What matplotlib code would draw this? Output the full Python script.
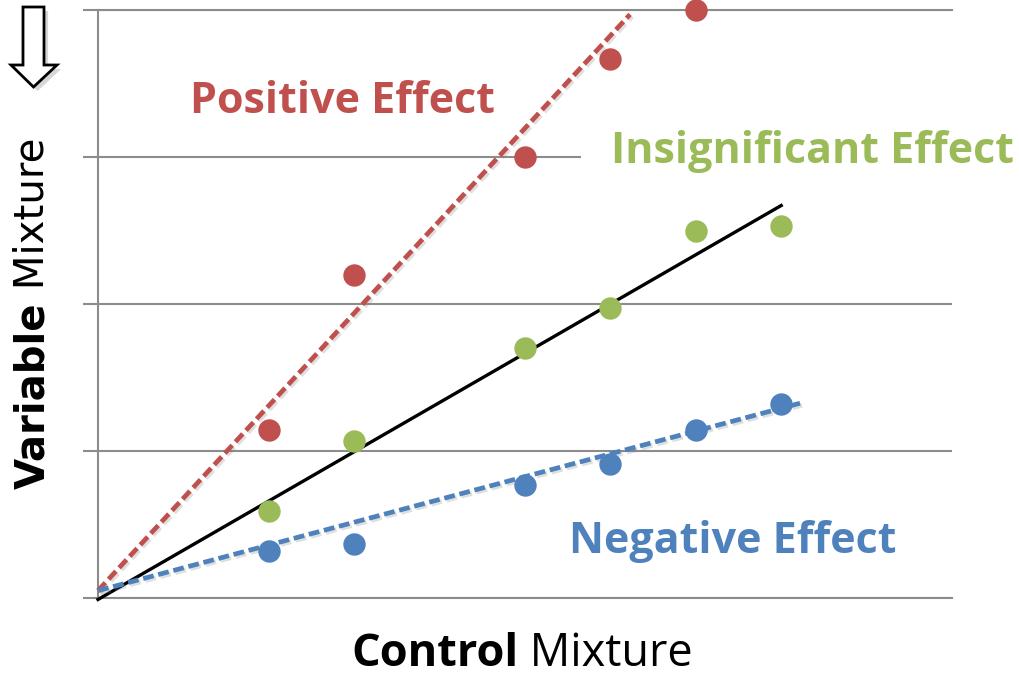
import matplotlib
matplotlib.use("Agg")
import matplotlib.pyplot as plt
import matplotlib.patheffects as pe
from matplotlib.patches import Polygon

# colours (office palette)
RED = "#C0504D"
GREEN = "#9BBB59"
BLUE = "#4F81BD"
GRID = "#8C8C8C"

# data points
x_pos = [2, 3, 5, 6, 7]
y_pos = [11.4, 22.0, 30.0, 36.7, 40.0]

x_ins = [2, 3, 5, 6, 7, 8]
y_ins = [5.9, 10.7, 17.0, 19.7, 25.0, 25.3]

x_neg = [2, 3, 5, 6, 7, 8]
y_neg = [3.2, 3.7, 7.7, 9.1, 11.4, 13.2]

# trend lines (end points)
line_pos_x = [0, 6.23]
line_pos_y = [0.5, 39.7]
line_ins_x = [0, 8.0]
line_ins_y = [-0.1, 26.7]
line_neg_x = [0, 8.22]
line_neg_y = [0.5, 13.25]

y_ticks = [0, 10, 20, 30, 40]

fig = plt.figure(figsize=(10.19, 6.78), dpi=100)
ax = fig.add_axes([98 / 1019, 80 / 678, 854 / 1019, 588 / 678])
ax.set_xlim(0, 10)
ax.set_ylim(0, 40)

# grid + axes look
ax.set_yticks(y_ticks)
ax.set_yticklabels([])
ax.set_xticks([])
ax.tick_params(axis="y", direction="out", length=10.8, width=1.5, color=GRID)
ax.grid(axis="y", color=GRID, linewidth=1.5)
ax.set_axisbelow(True)
for s in ["top", "bottom", "left"]:
    ax.spines[s].set_color(GRID)
    ax.spines[s].set_linewidth(1.5)
ax.spines["right"].set_visible(False)

shadow = [pe.SimpleLineShadow(offset=(1.5, -1.5), alpha=0.25, shadow_color="gray"), pe.Normal()]

ax.plot(line_pos_x, line_pos_y, color=RED, lw=3.4, ls=(0, (2.3, 1.0)), zorder=3,
        clip_on=False, path_effects=shadow)
ax.plot(line_ins_x, line_ins_y, color="black", lw=2.4, zorder=3, clip_on=False)
ax.plot(line_neg_x, line_neg_y, color=BLUE, lw=3.4, ls=(0, (2.3, 1.0)), zorder=3,
        clip_on=False, path_effects=shadow)

ax.scatter(x_pos, y_pos, s=260, color=RED, zorder=4, clip_on=False, linewidths=0)
ax.scatter(x_ins, y_ins, s=260, color=GREEN, zorder=4, clip_on=False, linewidths=0)
ax.scatter(x_neg, y_neg, s=260, color=BLUE, zorder=4, clip_on=False, linewidths=0)

# labels inside the plot
fnt = "Open Sans"
fig.text(343 / 1019, 1 - 113 / 678, "Positive Effect", color=RED, fontsize=31,
         fontweight="bold", family=fnt, ha="center", va="baseline")
fig.text(611 / 1019, 1 - 163 / 678, "Insignificant Effect", color=GREEN, fontsize=31,
         fontweight="bold", family=fnt, ha="left", va="baseline", zorder=2,
         bbox=dict(boxstyle="square,pad=0.7", fc="white", ec="none"))
fig.text(733 / 1019, 1 - 553 / 678, "Negative Effect", color=BLUE, fontsize=31,
         fontweight="bold", family=fnt, ha="center", va="baseline")

# axis titles (bold + regular)
fig.text(518 / 1019, 1 - 666 / 678, "Control", fontsize=32.5, fontweight="bold",
         family=fnt, ha="right", va="baseline")
fig.text(518 / 1019, 1 - 666 / 678, " Mixture", fontsize=32.5, family=fnt,
         ha="left", va="baseline")

fig.text(44 / 1019, 1 - 302 / 678, "Variable", fontsize=29, fontweight="bold",
         family="DejaVu Sans", rotation=90, rotation_mode="anchor",
         ha="right", va="baseline")
fig.text(44 / 1019, 1 - 302 / 678, " Mixture", fontsize=29,
         family="DejaVu Sans", rotation=90, rotation_mode="anchor",
         ha="left", va="baseline")

# hollow down arrow in the corner
arrow_px = [(23, 7), (44, 7), (44, 65), (57, 65), (33.5, 87), (11, 65), (23, 65)]
pts = [(px / 1019, 1 - py / 678) for px, py in arrow_px]
fig.patches.append(Polygon([(x + 0.004, y - 0.006) for x, y in pts], closed=True,
                           fc="#BBBBBB", ec="none", alpha=0.6,
                           transform=fig.transFigure))
fig.patches.append(Polygon(pts, closed=True, fc="white", ec="black", lw=2.0,
                           transform=fig.transFigure))

fig.savefig("out.png", dpi=100)
